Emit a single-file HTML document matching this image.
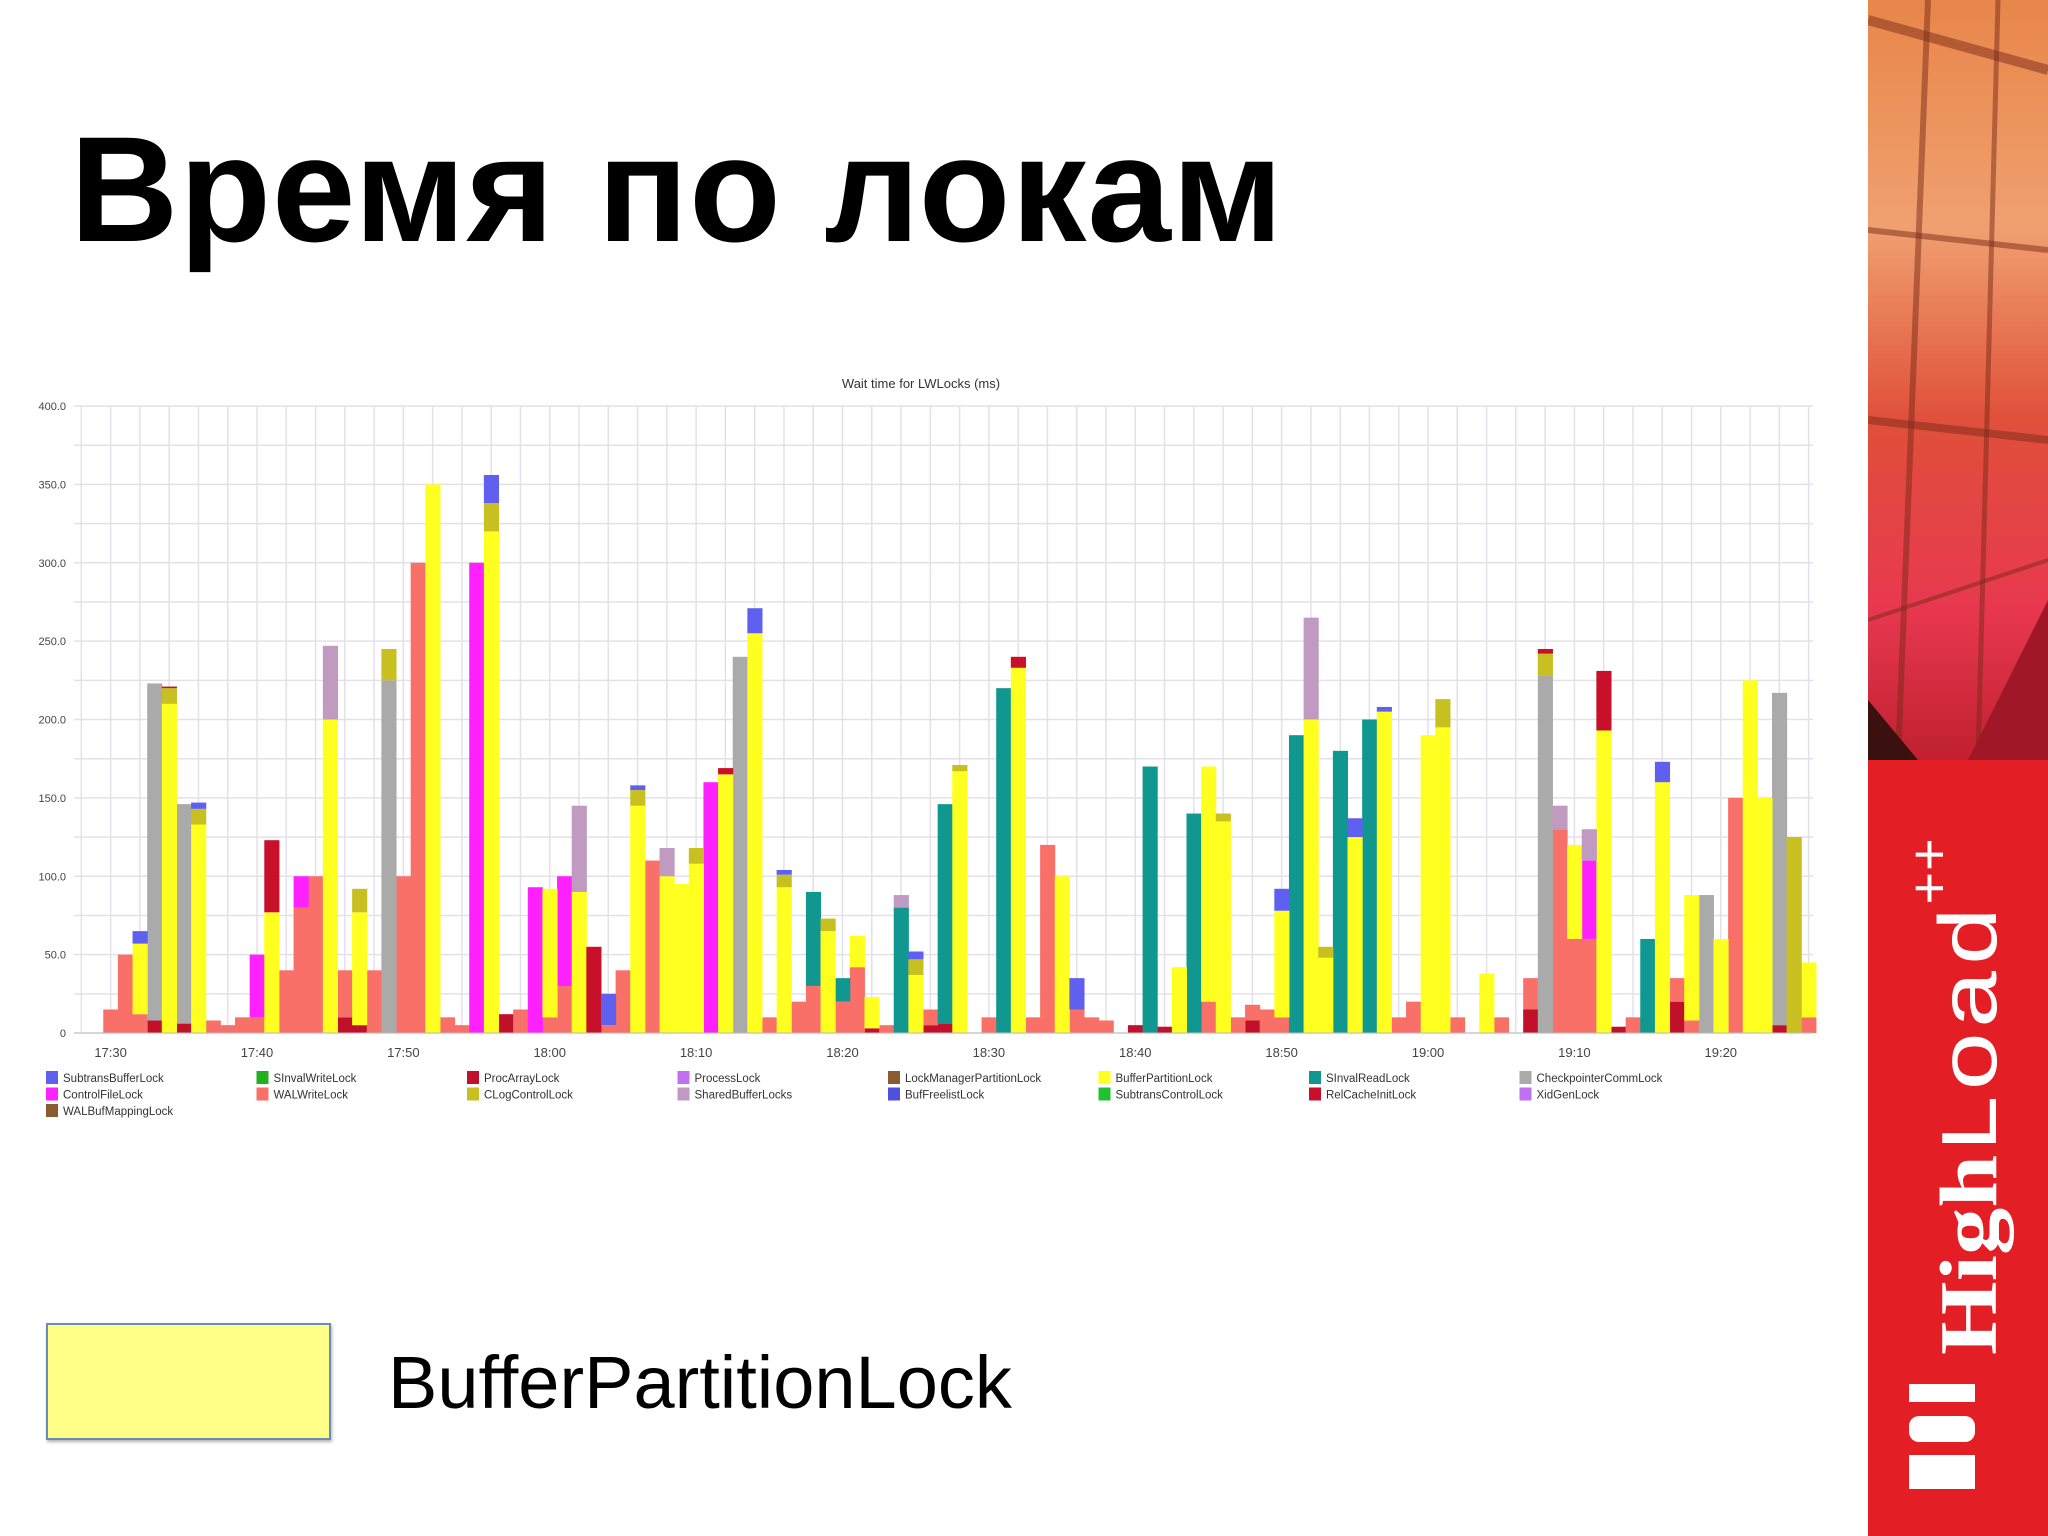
<!DOCTYPE html>
<html><head><meta charset="utf-8">
<style>
html,body{margin:0;padding:0;background:#fff;}
body{width:2048px;height:1536px;position:relative;overflow:hidden;font-family:"Liberation Sans","DejaVu Sans",sans-serif;}
#title{position:absolute;left:70px;top:103px;font-size:150px;font-weight:bold;color:#000;letter-spacing:1px;white-space:nowrap;}
#swatch{position:absolute;left:46px;top:1323px;width:281px;height:113px;background:#ffff88;border:2px solid #6a8ab8;box-shadow:1px 2px 3px rgba(0,0,0,.3);}
#swlabel{position:absolute;left:388px;top:1340px;font-size:74px;color:#000;white-space:nowrap;}
#side{position:absolute;left:1868px;top:0;width:180px;height:1536px;}
</style></head><body>
<div id="title">Время по локам</div>
<svg id="chart" width="1868" height="1200" style="position:absolute;left:0;top:0" font-family="Liberation Sans, DejaVu Sans, sans-serif"></svg>
<div id="swatch"></div>
<div id="swlabel">BufferPartitionLock</div>
<svg id="side" width="180" height="1536">
  <defs>
    <linearGradient id="g1" x1="0" y1="0" x2="0" y2="1">
      <stop offset="0" stop-color="#e8864a"/><stop offset="0.3" stop-color="#f0a070"/>
      <stop offset="0.55" stop-color="#e0503a"/><stop offset="0.8" stop-color="#e83850"/><stop offset="1" stop-color="#c02030"/>
    </linearGradient>
  </defs>
  <rect x="0" y="0" width="180" height="760" fill="url(#g1)"/>
  <g stroke="#7a2a18" stroke-opacity="0.5" fill="none">
    <line x1="0" y1="20" x2="180" y2="70" stroke-width="10"/>
    <line x1="0" y1="230" x2="180" y2="250" stroke-width="6"/>
    <line x1="0" y1="420" x2="180" y2="440" stroke-width="8"/>
    <line x1="60" y1="0" x2="30" y2="760" stroke-width="6"/>
    <line x1="130" y1="0" x2="110" y2="760" stroke-width="5"/>
    <line x1="0" y1="620" x2="180" y2="560" stroke-width="4"/>
  </g>
  <polygon points="0,700 50,760 0,760" fill="#3a1010"/>
  <polygon points="100,760 180,600 180,760" fill="#a01828"/>
  <rect x="0" y="760" width="180" height="776" fill="#e31e24"/>
  <g fill="#fff">
    <rect x="41" y="1455" width="66" height="34"/>
    <rect x="41" y="1416" width="66" height="26" rx="10"/>
    <rect x="41" y="1384" width="66" height="18"/>
  </g>
  <text x="0" y="0" transform="translate(128,1355) rotate(-90)" fill="#fff" font-size="82" font-family="Liberation Serif, serif"><tspan font-weight="bold" textLength="200" lengthAdjust="spacingAndGlyphs">High</tspan><tspan font-family="Liberation Mono, monospace" font-weight="normal" textLength="250" lengthAdjust="spacingAndGlyphs">Load</tspan><tspan font-size="56" dy="-48" font-family="Liberation Mono, monospace">++</tspan></text>
</svg>
<script>
// minute offsets from 17:30; values in ms
const seriesNames = ["ProcArrayLock","WALWriteLock","ControlFileLock","SInvalReadLock","CheckpointerCommLock","BufferPartitionLock","SharedBufferLocks","CLogControlLock","RelCacheInitLock","SubtransBufferLock"];
const seriesColors = ["#c0102a","#f87068","#ff20ff","#109890","#aaaaaa","#ffff20","#c09ac0","#c8c020","#c8102a","#6060f0"];
const procAt=[3,5,16,17,27,52,56,57,70,72,78,97,103,107,114];
const procVal=[8,6,10,5,12,3,5,6,5,4,8,15,4,20,5];
const walAt=[0,1,2,7,8,9,10,12,13,14,16,18,20,21,23,24,28,30,31,34,35,37,45,47,48,50,51,53,56,60,63,64,66,67,68,75,77,78,79,80,88,89,92,95,97,99,100,101,104,107,108,111,116];
const walVal=[15,50,12,8,5,10,10,40,80,100,30,40,100,300,10,5,15,10,30,5,40,110,10,20,30,20,42,5,10,10,10,120,15,10,8,20,10,10,15,10,10,20,10,10,20,130,60,60,10,15,8,150,10];
const ctrlAt=[10,13,25,29,31,41,101];
const ctrlVal=[40,20,300,93,70,160,50];
const tealAt=[48,50,54,57,61,71,74,81,84,86,105];
const tealVal=[60,15,80,140,220,170,140,190,180,200,60];
const grayAt=[3,5,19,43,98,109,114];
const grayVal=[215,140,225,240,228,88,212];
const yellowAt=[2,4,6,11,15,17,22,26,30,32,36,38,39,40,42,44,46,49,51,52,55,58,62,65,73,75,76,80,82,83,85,87,90,91,94,100,102,106,108,110,112,113,116];
const yellowVal=[45,210,133,77,200,72,350,320,82,90,145,100,95,108,165,255,93,65,20,20,37,167,233,100,42,150,135,68,200,48,125,205,190,195,38,60,193,160,80,60,225,150,35];
const lilacAt=[15,32,38,54,82,99,101];
const lilacVal=[47,55,18,8,65,15,20];
const oliveAt=[4,6,17,19,26,36,40,46,49,55,58,76,83,91,98,115];
const oliveVal=[10,10,15,20,18,10,10,8,8,10,4,5,7,18,14,125];
const relAt=[4,11,33,42,62,98,102];
const relVal=[1,46,55,4,7,3,38];
const blueAt=[2,6,26,34,36,44,46,55,66,80,85,87,106];
const blueVal=[8,4,18,20,3,16,3,5,20,14,12,3,13];
const yTicks=[0,50,100,150,200,250,300,350,400];
const yTickLabels=["0","50.0","100.0","150.0","200.0","250.0","300.0","350.0","400.0"];
const xTicks=[0,10,20,30,40,50,60,70,80,90,100,110];
const xTickLabels=["17:30","17:40","17:50","18:00","18:10","18:20","18:30","18:40","18:50","19:00","19:10","19:20"];
const legendNames=["SubtransBufferLock","SInvalWriteLock","ProcArrayLock","ProcessLock","LockManagerPartitionLock","BufferPartitionLock","SInvalReadLock","CheckpointerCommLock","ControlFileLock","WALWriteLock","CLogControlLock","SharedBufferLocks","BufFreelistLock","SubtransControlLock","RelCacheInitLock","XidGenLock","WALBufMappingLock"];
const legendColors=["#6060f0","#20b020","#c0102a","#c070f0","#8a5a30","#ffff20","#109890","#aaaaaa","#ff20ff","#f87068","#c8c020","#c09ac0","#5050e0","#20c030","#c8102a","#c070f0","#8a5a30"];

const svg=document.getElementById('chart');
const NS="http://www.w3.org/2000/svg";
const L=74,R=1813,T=406,B=1033,XMIN=-2.5,XMAX=116.3;
function xs(m){return L+(m-XMIN)/(XMAX-XMIN)*(R-L);}
function ys(v){return B-v/400*(B-T);}
function mk(tag,attrs,parent){const e=document.createElementNS(NS,tag);for(const k in attrs)e.setAttribute(k,attrs[k]);(parent||svg).appendChild(e);return e;}

const grid=mk('g',{});


for(let v=0;v<=400;v+=25){mk('line',{x1:L,x2:R,y1:ys(v),y2:ys(v),stroke:'#e4e0e8','stroke-width':1.5},grid);}
for(let m=-2;m<=116;m+=2){mk('line',{x1:xs(m),x2:xs(m),y1:T,y2:B,stroke:'#e4e0e8','stroke-width':1.5},grid);}

const title=mk('text',{x:921,y:388,'text-anchor':'middle','font-size':13,fill:'#333'});
title.textContent='Wait time for LWLocks (ms)';



const pairs=[[procAt,procVal],[walAt,walVal],[ctrlAt,ctrlVal],[tealAt,tealVal],[grayAt,grayVal],[yellowAt,yellowVal],[lilacAt,lilacVal],[oliveAt,oliveVal],[relAt,relVal],[blueAt,blueVal]];
const N=117;
const base=new Array(N).fill(0);
pairs.forEach((p,si)=>{
  const dense=new Array(N).fill(0);
  p[0].forEach((m,i)=>{if(m>=0&&m<N)dense[m]=p[1][i];});
  const g=mk('g',{fill:seriesColors[si]});
  
  
  for(let m=0;m<N;m++){
    if(dense[m]<=0)continue;
    const y0=ys(base[m]),y1=ys(base[m]+dense[m]);
    const r=mk('rect',{x:xs(m-0.5),y:y1,width:xs(m+0.5)-xs(m-0.5)+0.5,height:y0-y1},g);
    
    
    base[m]+=dense[m];
  }
});
mk('line',{x1:L,x2:R,y1:B,y2:B,stroke:'#bbb','stroke-width':1});

const yax=mk('g',{'font-size':11,fill:'#444','text-anchor':'end'});


yTicks.forEach((v,i)=>{const t=mk('text',{x:L-8,y:ys(v)+4},yax);t.textContent=yTickLabels[i];});
const xax=mk('g',{'font-size':13,fill:'#444','text-anchor':'middle'});


xTicks.forEach((m,i)=>{const t=mk('text',{x:xs(m),y:1057},xax);t.textContent=xTickLabels[i];});

const lg=mk('g',{'font-size':11.5,fill:'#333'});


legendNames.forEach((n,i)=>{
  const col=i%8,row=Math.floor(i/8);
  const x=46+col*210.5,y=1071+row*16.5;
  const e=mk('g',{},lg);
  
  
  mk('rect',{x:x,y:y,width:12,height:13,fill:legendColors[i]},e);
  const t=mk('text',{x:x+17,y:y+11},e);t.textContent=n;
});
</script>
</body></html>
